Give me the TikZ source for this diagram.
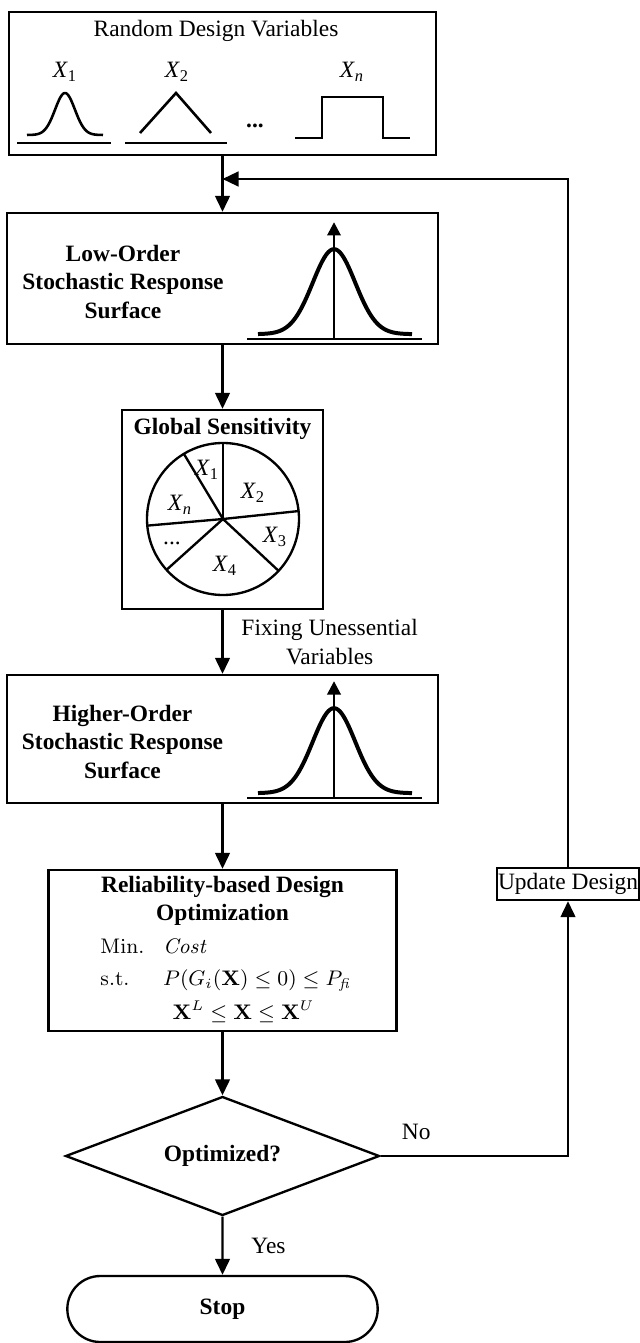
\documentclass[tikz,border=0pt]{standalone}
\usepackage[no-math]{fontspec}
\setmainfont{Liberation Serif}
\usetikzlibrary{arrows.meta,shapes.geometric,shapes.misc,positioning}
\newcommand{\pxlen}{0.015cm}

\begin{document}
\begin{tikzpicture}[x=0.015cm, y=-0.015cm,
    >={Triangle[length=0.24cm,width=0.22cm]},
    box/.style={draw, line width=1pt, rectangle, inner sep=0pt},
    flow/.style={->, line width=1pt},
    bell/.style={line width=1.7pt},
    smallbell/.style={line width=1.1pt},
    headtxt/.style={font=\bfseries, align=center}]

    \useasboundingbox (0,0) rectangle (640,1343);

    % ============================================================
    % RANDOM DESIGN VARIABLES
    % ============================================================
    \node[box, minimum width=427*\pxlen, minimum height=143*\pxlen]
        (rdv) at (222.5,83.5) {};
    \node (rdvtitle) at (216,31) {Random Design Variables};
    \node (xa) at (65,72) {\textit{X}\textsubscript{1}};
    \node (xb) at (177,72) {\textit{X}\textsubscript{2}};
    \node (xn) at (352,72) {\textit{X}\textsubscript{\textit{n}}};
    \node (rdvdots) at (255,126) {\textbf{...}};

    \draw[smallbell] plot[domain=27:103, samples=60, smooth]
        (\x, {135-42*exp(-((\x-65)/14)*((\x-65)/14))});
    \draw[smallbell] (140,133) -- (176,93) -- (211,133);
    \draw[smallbell] (295,138) -- (322,138) -- (322,97)
        -- (383,97) -- (383,138) -- (410,138);
    \draw[smallbell] (17,143) -- (111,143);
    \draw[smallbell] (125,143) -- (227,143);

    % ============================================================
    % STOCHASTIC RESPONSE SURFACES
    % ============================================================
    \node[box, minimum width=431*\pxlen, minimum height=131*\pxlen]
        (lsrs) at (222.5,278.5) {};
    \node[headtxt] (lsrstxt) at (123,282)
        {Low-Order\\Stochastic Response\\Surface};

    \node[box, minimum width=431*\pxlen, minimum height=128*\pxlen]
        (hsrs) at (222.5,739) {};
    \node[headtxt] (hsrstxt) at (122.5,742)
        {Higher-Order\\Stochastic Response\\Surface};

    \foreach \bx in {lsrs,hsrs} {
        \begin{scope}[shift={(\bx.south)}]
            \draw[bell] plot[domain=35.5:189.5, samples=80, smooth]
                (\x, {-11-85*exp(-((\x-111.5)/30)*((\x-111.5)/30))});
            \draw[smallbell] (24.5,-6) -- (199.5,-6);
            \draw[smallbell, -{Triangle[length=0.2cm,width=0.2cm]}]
                (111.5,-6) -- (111.5,-123);
        \end{scope}
    }

    % ============================================================
    % GLOBAL SENSITIVITY
    % ============================================================
    \node[box, minimum width=201*\pxlen, minimum height=199*\pxlen]
        (gsa) at (222.5,509.5) {};
    \node[font=\bfseries, anchor=base] (gsatitle) at (222.5,435)
        {Global Sensitivity};

    \coordinate (pc) at (223,519);
    \draw[line width=1pt] (pc) circle[radius=76];
    \foreach \a in {90,121,185,222,317,6}
        \draw[line width=1pt] (pc) -- ++(-\a:76);

    \node (pxa) at (207,470) {\textit{X}\textsubscript{1}};
    \node (pxb) at (253,493) {\textit{X}\textsubscript{2}};
    \node (pxn) at (180,505) {\textit{X}\textsubscript{\textit{n}}};
    \node (pxc) at (275,537) {\textit{X}\textsubscript{3}};
    \node (pdots) at (172,543) {...};
    \node (pxd) at (225,566) {\textit{X}\textsubscript{4}};

    % ============================================================
    % RBDO
    % ============================================================
    \node[box, minimum width=348*\pxlen, minimum height=161*\pxlen]
        (rbdo) at (222.5,950.5) {};
    \node[headtxt] (rbdotitle) at (222.5,901)
        {Reliability-based Design\\Optimization};
    \node[anchor=base west, inner sep=0pt, font=\small] (rbdoeq) at (100,953)
        {\begin{tabular}[t]{@{}l@{\hspace{8pt}}l@{}}
            $\mathrm{Min.}$ & $\mathit{Cost}$ \\[3pt]
            $\mathrm{s.t.}$ & $P(G_i(\mathbf{X})\le 0)\le P_{\mathit{fi}}$ \\[3pt]
             & \hspace{4pt}$\mathbf{X}^L\le\mathbf{X}\le\mathbf{X}^U$
        \end{tabular}};

    % ============================================================
    % DECISION / STOP / UPDATE
    % ============================================================
    \node[draw, diamond, line width=1pt, aspect=2.6, inner sep=0pt,
        minimum width=314*\pxlen, minimum height=119*\pxlen,
        font=\bfseries] (opt) at (222.5,1156) {Optimized?};
    \node[draw, rounded rectangle, line width=1pt,
        minimum width=326*\pxlen, minimum height=66*\pxlen,
        font=\bfseries] (stop) at (222.5,1309) {Stop};
    \node[box, minimum width=142*\pxlen, minimum height=32*\pxlen]
        (upd) at (568,884) {Update Design};

    \coordinate (fbin) at (222.5,179);

    % ============================================================
    % FLOW
    % ============================================================
    \draw[flow] (rdv) -- (lsrs);
    \draw[flow] (lsrs) -- (gsa);
    \draw[flow] (gsa) -- node[right, xshift=0.15cm, align=center]
        {Fixing Unessential\\Variables} (hsrs);
    \draw[flow] (hsrs) -- (rbdo);
    \draw[flow] (rbdo) -- (opt);
    \draw[flow] (opt) -- node[right, xshift=0.3cm] {Yes} (stop);
    \draw[flow] (opt.east) -| node[pos=0.095, above=3pt] {No} (upd.south);
    \draw[flow] (upd.north) |- (fbin);

\end{tikzpicture}
\end{document}
